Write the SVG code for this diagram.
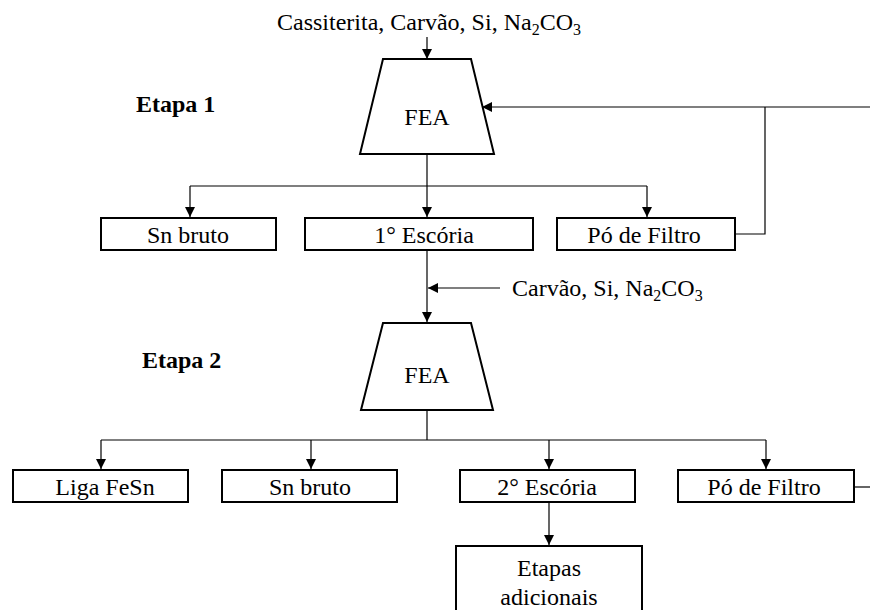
<svg xmlns="http://www.w3.org/2000/svg" width="870" height="610" viewBox="0 0 870 610">
<style>
text{font-family:"Liberation Serif","Times New Roman",serif;font-size:24px;fill:#000}
.c{text-anchor:middle}
.b{font-weight:bold}
.box{fill:#fff;stroke:#000;stroke-width:2}
.ln{fill:none;stroke:#000;stroke-width:1.2}
</style>
<defs>
<marker id="ah" viewBox="0 0 10 10" refX="10" refY="5" markerWidth="10" markerHeight="10" markerUnits="userSpaceOnUse" orient="auto">
<path d="M0,0 L10,5 L0,10 Z" fill="#000"/>
</marker>
</defs>
<g id="labels">
<text x="277" y="30">Cassiterita, Carvão, Si, Na<tspan font-size="16" dy="5">2</tspan><tspan dy="-5">CO</tspan><tspan font-size="16" dy="5">3</tspan></text>
<text x="512" y="296">Carvão, Si, Na<tspan font-size="16" dy="5">2</tspan><tspan dy="-5">CO</tspan><tspan font-size="16" dy="5">3</tspan></text>
<text class="b" x="136" y="112">Etapa 1</text>
<text class="b" x="142" y="368">Etapa 2</text>
</g>
<g id="connectors">
<line class="ln" x1="427" y1="37" x2="427" y2="59" marker-end="url(#ah)"/>
<polyline class="ln" points="735,234 765,234 765,107"/>
<line class="ln" x1="870" y1="107" x2="482" y2="107" marker-end="url(#ah)"/>
<line class="ln" x1="427" y1="154" x2="427" y2="217" marker-end="url(#ah)"/>
<line class="ln" x1="190" y1="186" x2="647" y2="186"/>
<line class="ln" x1="190" y1="186" x2="190" y2="217" marker-end="url(#ah)"/>
<line class="ln" x1="647" y1="186" x2="647" y2="217" marker-end="url(#ah)"/>
<line class="ln" x1="427" y1="250" x2="427" y2="322" marker-end="url(#ah)"/>
<line class="ln" x1="500" y1="288" x2="428" y2="288" marker-end="url(#ah)"/>
<line class="ln" x1="427" y1="410" x2="427" y2="440"/>
<line class="ln" x1="101" y1="440" x2="766" y2="440"/>
<line class="ln" x1="101" y1="440" x2="101" y2="469" marker-end="url(#ah)"/>
<line class="ln" x1="311" y1="440" x2="311" y2="469" marker-end="url(#ah)"/>
<line class="ln" x1="549" y1="440" x2="549" y2="469" marker-end="url(#ah)"/>
<line class="ln" x1="766" y1="440" x2="766" y2="469" marker-end="url(#ah)"/>
<line class="ln" x1="549" y1="502" x2="549" y2="545" marker-end="url(#ah)"/>
<line class="ln" x1="854" y1="487" x2="870" y2="487"/>
</g>
<g id="fea1">
<polygon class="box" points="383,59 471,59 494,154 360,154"/>
<text class="c" x="427" y="125">FEA</text>
</g>
<g id="sn-bruto-1">
<rect class="box" x="101" y="218" width="175" height="32"/>
<text class="c" x="188" y="243">Sn bruto</text>
</g>
<g id="escoria-1">
<rect class="box" x="305" y="218" width="228" height="32"/>
<text class="c" x="424" y="243">1° Escória</text>
</g>
<g id="po-filtro-1">
<rect class="box" x="557" y="218" width="178" height="32"/>
<text class="c" x="644" y="243">Pó de Filtro</text>
</g>
<g id="fea2">
<polygon class="box" points="383,323 471,323 493,410 361,410"/>
<text class="c" x="427" y="383">FEA</text>
</g>
<g id="liga-fesn">
<rect class="box" x="13" y="470" width="175" height="32"/>
<text class="c" x="105" y="495">Liga FeSn</text>
</g>
<g id="sn-bruto-2">
<rect class="box" x="222" y="470" width="175" height="32"/>
<text class="c" x="310" y="495">Sn bruto</text>
</g>
<g id="escoria-2">
<rect class="box" x="460" y="470" width="175" height="32"/>
<text class="c" x="547" y="495">2° Escória</text>
</g>
<g id="po-filtro-2">
<rect class="box" x="678" y="470" width="176" height="32"/>
<text class="c" x="764" y="495">Pó de Filtro</text>
</g>
<g id="etapas-adicionais">
<rect class="box" x="456" y="546" width="186" height="70"/>
<text class="c" x="549" y="576">Etapas</text>
<text class="c" x="549" y="605">adicionais</text>
</g>
</svg>
